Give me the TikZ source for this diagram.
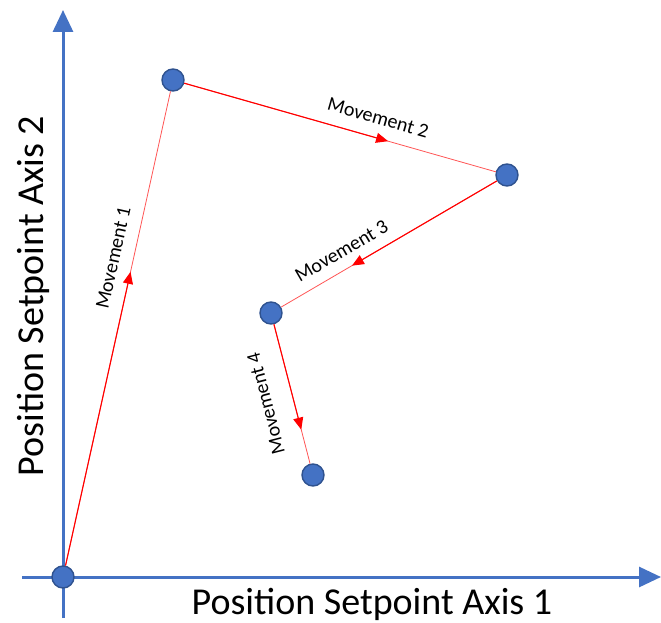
\documentclass[tikz,border=0pt]{standalone}
\usepackage{fontspec}
\setmainfont{Carlito}
\usetikzlibrary{arrows.meta,calc}

\definecolor{axisblue}{RGB}{68,114,196}
\definecolor{pointedge}{RGB}{47,82,143}
\definecolor{movethin}{RGB}{255,85,85}

\begin{document}
\begin{tikzpicture}[
        x=1pt, y=-1pt,
        axis/.style={draw=axisblue, line width=3pt, -{Triangle[length=22pt, width=20pt]}},
        axislabel/.style={font=\fontsize{38}{42}\selectfont, anchor=base, inner sep=0pt},
        point/.style={circle, draw=pointedge, line width=1.4pt, fill=axisblue, minimum size=22pt, inner sep=0pt},
        move/.style={draw=movethin, line width=0.8pt},
        movehead/.style={draw=red, line width=1.1pt, -{Triangle[length=12pt, width=10pt]}},
        movelabel/.style={font=\fontsize{20}{22}\selectfont, sloped, inner sep=2pt}
    ]
        \useasboundingbox (0,0) rectangle (661,623);

        % Axes.
        \coordinate (xstart) at (22,577);
        \coordinate (xend) at (661,577);
        \coordinate (ystart) at (63,618);
        \coordinate (yend) at (63,10);
        \draw[axis] (xstart) -- (xend);
        \draw[axis] (ystart) -- (yend);
        \node[axislabel] (xlabel) at (372,614) {Position Setpoint Axis 1};
        \node[axislabel, rotate=90] (ylabel) at (43,296) {Position Setpoint Axis 2};

        % Setpoints.
        \node[point] (origin) at (63,577) {};
        \node[point] (p1) at (173,80) {};
        \node[point] (p2) at (507,175) {};
        \node[point] (p3) at (271,313) {};
        \node[point] (p4) at (313,475) {};

        % Movements between setpoints.
        \draw[move] (origin) -- (p1) node[movelabel, pos=0.64, above=11pt] {Movement 1};
        \draw[movehead] (origin) -- ($(origin)!0.614!(p1)$);

        \draw[move] (p1) -- (p2) node[movelabel, pos=0.605, above=11pt] {Movement 2};
        \draw[movehead] (p1) -- ($(p1)!0.644!(p2)$);

        \draw[move] (p2) -- (p3) node[movelabel, pos=0.678, above=9pt] {Movement 3};
        \draw[movehead] (p2) -- ($(p2)!0.657!(p3)$);

        \draw[move] (p3) -- (p4);
        \path (p4) -- (p3) node[movelabel, allow upside down, pos=0.48, above=19pt] {Movement 4};
        \draw[movehead] (p3) -- ($(p3)!0.72!(p4)$);
    \end{tikzpicture}
\end{document}
